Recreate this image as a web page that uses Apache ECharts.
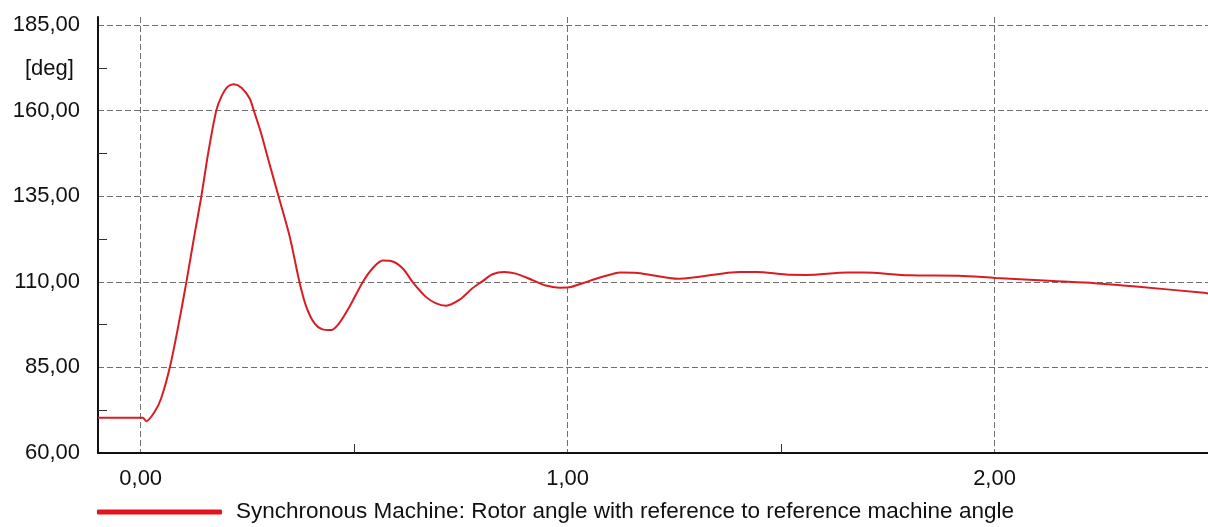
<!DOCTYPE html>
<html>
<head>
<meta charset="utf-8">
<script src="https://cdn.jsdelivr.net/npm/echarts@6/dist/echarts.min.js"></script>
<style>
    html, body { margin: 0; padding: 0; background: #fff; }
    #chart { width: 1208px; height: 527px; }
</style>
</head>
<body>
<div id="chart"></div>
<script>
    // time [s]
    var timeS = [
        -0.1, 0.0, 0.005, 0.013, 0.033, 0.048, 0.068, 0.087, 0.107, 0.126,
        0.142, 0.158, 0.177, 0.189, 0.204, 0.218, 0.236, 0.255, 0.265,
        0.282, 0.298, 0.323, 0.349, 0.372, 0.388, 0.407, 0.426, 0.446,
        0.465, 0.489, 0.520, 0.543, 0.567, 0.586, 0.614, 0.637, 0.668, 0.692,
        0.715, 0.746, 0.777, 0.801, 0.824, 0.851, 0.879, 0.918, 0.949, 0.980,
        1.004, 1.035, 1.074, 1.105, 1.125, 1.163, 1.260, 1.405, 1.443, 1.511,
        1.559, 1.656, 1.694, 1.800, 1.916, 2.003, 2.138, 2.235, 2.331, 2.490, 2.5
    ];
    // rotor angle [deg]
    var rotorAngle = [
        70.3, 70.3, 70.3, 69.3, 72.1, 76.0, 84.9, 96.4, 109.9, 123.7,
        134.9, 147.5, 160.0, 164.1, 167.0, 167.7, 166.7, 163.6, 160.0,
        153.4, 146.1, 134.9, 123.2, 109.9, 102.7, 97.9, 96.1, 95.9,
        97.9, 102.7, 109.9, 113.9, 116.2, 116.1, 113.9, 109.9, 105.6, 103.7,
        103.0, 104.7, 108.1, 110.2, 112.2, 112.9, 112.4, 110.5, 108.9, 108.3,
        108.4, 109.6, 111.2, 112.3, 112.7, 112.6, 110.9, 112.9, 112.9, 112.1,
        112.0, 112.7, 112.7, 111.9, 111.8, 111.1, 110.2, 109.6, 108.6, 106.8, 106.6
    ];
    var xLabelValues = [0, 1, 2];
    var xMinorValues = [0.5, 1.5, 2.5];
    var yTickValues = [60, 85, 110, 135, 160, 185];
    var seriesName = 'Synchronous Machine: Rotor angle with reference to reference machine angle';

    var font = 'Liberation Sans, Arial, sans-serif';
    var fmt = function (v) { return v.toFixed(2).replace('.', ','); };

    var points = timeS.map(function (t, i) { return [t, rotorAngle[i]]; });

    var myChart = echarts.init(document.getElementById('chart'));
    var options = {
        animation: false,
        backgroundColor: '#fff',
        title: {
            text: '[deg]',
            left: 25,
            top: 57,
            padding: 0,
            textStyle: { fontFamily: font, fontSize: 22, fontWeight: 'normal', color: '#111', lineHeight: 24 }
        },
        grid: { left: 98, right: 0, top: 17, bottom: 74 },
        legend: {
            data: [seriesName],
            left: 97,
            top: 500,
            padding: 0,
            icon: 'roundRect',
            itemWidth: 125,
            itemHeight: 5,
            itemStyle: { color: '#e8121a' },
            textStyle: { fontFamily: font, fontSize: 22.5, color: '#111', lineHeight: 24, padding: [0, 0, 0, 9] }
        },
        xAxis: [{
            type: 'value',
            min: -0.1,
            max: 2.5,
            axisLine: { show: true, onZero: false, lineStyle: { color: '#111', width: 2 } },
            axisTick: { show: false, customValues: xLabelValues },
            axisLabel: {
                customValues: xLabelValues,
                margin: 15,
                fontFamily: font, fontSize: 22, color: '#111',
                formatter: fmt
            },
            splitLine: { show: true, lineStyle: { color: '#707070', type: [6, 3], width: 1 } }
        }, {
            type: 'value',
            position: 'bottom',
            min: -0.1,
            max: 2.5,
            axisLine: { show: false, onZero: false },
            axisTick: { show: true, inside: true, length: 9, customValues: xMinorValues, lineStyle: { color: '#333', width: 1 } },
            axisLabel: { show: false },
            splitLine: { show: false }
        }],
        yAxis: {
            type: 'value',
            min: 60,
            max: 187.34,
            interval: 25,
            axisLine: { show: true, onZero: false, lineStyle: { color: '#111', width: 2 } },
            axisTick: { show: true, inside: true, length: 0, customValues: yTickValues },
            minorTick: { show: true, splitNumber: 2, length: 9, lineStyle: { color: '#333', width: 1 } },
            axisLabel: {
                customValues: yTickValues,
                margin: 18,
                fontFamily: font, fontSize: 22, color: '#111',
                formatter: fmt
            },
            splitLine: { show: true, lineStyle: { color: '#707070', type: [6, 3], width: 1 } }
        },
        series: [{
            name: seriesName,
            type: 'line',
            xAxisIndex: 0,
            data: points,
            smooth: 0.3,
            showSymbol: false,
            lineStyle: { color: '#d91c24', width: 2 },
            itemStyle: { color: '#d91c24' }
        }]
    };
    myChart.setOption(options);
    window.addEventListener('resize', myChart.resize);
</script>
</body>
</html>
